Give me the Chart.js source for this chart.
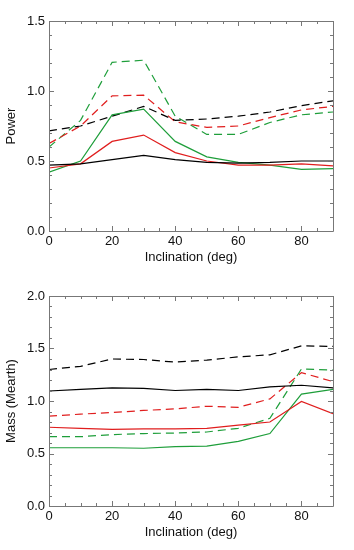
<!DOCTYPE html>
<html>
<head>
<meta charset="utf-8">
<script src="https://cdn.jsdelivr.net/npm/chart.js@4"></script>
<style>
  body { margin: 0; background: #fff; }
  canvas { position: absolute; left: 0; }
  #powerChart { top: 0; }
  #massChart { top: 275px; }
</style>
</head>
<body>
<canvas id="powerChart" width="354" height="275"></canvas>
<canvas id="massChart" width="354" height="275"></canvas>
<script>
// Inclination grid shared by both panels
const inclinations = [0, 10, 20, 30, 40, 50, 60, 70, 80, 90];

// Top panel: Power
const powerBlackSolid = [0.47, 0.48, 0.51, 0.54, 0.51, 0.49, 0.485, 0.49, 0.50, 0.50];
const powerRedSolid   = [0.45, 0.48, 0.64, 0.685, 0.56, 0.50, 0.47, 0.47, 0.48, 0.465];
const powerGreenSolid = [0.42, 0.50, 0.83, 0.87, 0.64, 0.53, 0.49, 0.47, 0.44, 0.445];
const powerBlackDash  = [0.715, 0.75, 0.82, 0.89, 0.79, 0.80, 0.82, 0.85, 0.895, 0.93];
const powerRedDash    = [0.625, 0.75, 0.965, 0.97, 0.78, 0.74, 0.75, 0.81, 0.865, 0.89];
const powerGreenDash  = [0.60, 0.79, 1.205, 1.22, 0.82, 0.69, 0.69, 0.775, 0.83, 0.85];

// Bottom panel: Mass (Mearth)
const massBlackDash  = [1.30, 1.33, 1.40, 1.395, 1.37, 1.39, 1.42, 1.44, 1.525, 1.52];
const massBlackSolid = [1.095, 1.11, 1.125, 1.12, 1.10, 1.11, 1.10, 1.135, 1.15, 1.125];
const massRedDash    = [0.855, 0.875, 0.89, 0.91, 0.925, 0.95, 0.94, 1.02, 1.27, 1.185];
const massRedSolid   = [0.75, 0.74, 0.73, 0.735, 0.735, 0.74, 0.77, 0.80, 0.995, 0.88];
const massGreenDash  = [0.66, 0.66, 0.68, 0.69, 0.695, 0.705, 0.74, 0.835, 1.305, 1.295];
const massGreenSolid = [0.555, 0.555, 0.555, 0.55, 0.565, 0.57, 0.615, 0.69, 1.065, 1.11];

const BLACK = '#000000';
const RED = '#e01e1e';
const GREEN = '#1e9e3a';
const DASH = [8, 5];
const FONT = "'Liberation Sans', Arial, Helvetica, sans-serif";

function series(values, color, dashed) {
    return {
        data: values.map((v, i) => ({x: inclinations[i], y: v})),
        borderColor: color,
        backgroundColor: color,
        borderWidth: 1.2,
        borderDash: dashed ? DASH : [],
        pointRadius: 0,
        tension: 0,
        fill: false
    };
}

// IDL-style box with inward ticks on all four sides
const boxPlugin = {
    id: 'idlBox',
    afterDatasetsDraw(chart, args, opts) {
        const ctx = chart.ctx;
        const a = chart.chartArea;
        const xs = chart.scales.x;
        const ys = chart.scales.y;
        ctx.save();
        ctx.strokeStyle = '#777';
        ctx.lineWidth = 1;
        ctx.beginPath();
        ctx.rect(Math.round(a.left) + 0.5, Math.round(a.top) + 0.5,
                 Math.round(a.right - a.left), Math.round(a.bottom - a.top));
        ctx.stroke();
        ctx.beginPath();
        for (let v = xs.min; v <= xs.max + 1e-9; v += opts.xMinor) {
            const px = Math.round(xs.getPixelForValue(v)) + 0.5;
            const len = (Math.abs(v / opts.xMajor - Math.round(v / opts.xMajor)) < 1e-6) ? 5 : 3;
            ctx.moveTo(px, a.bottom); ctx.lineTo(px, a.bottom - len);
            ctx.moveTo(px, a.top); ctx.lineTo(px, a.top + len);
        }
        for (let v = ys.min; v <= ys.max + 1e-9; v += opts.yMinor) {
            const py = Math.round(ys.getPixelForValue(v)) + 0.5;
            const len = (Math.abs(v / opts.yMajor - Math.round(v / opts.yMajor)) < 1e-6) ? 5 : 3;
            ctx.moveTo(a.left, py); ctx.lineTo(a.left + len, py);
            ctx.moveTo(a.right, py); ctx.lineTo(a.right - len, py);
        }
        ctx.stroke();
        ctx.restore();
    }
};

function makePanel(canvasId, datasets, yMax, yTitle) {
    const ctx = document.getElementById(canvasId).getContext('2d');
    return new Chart(ctx, {
        type: 'line',
        data: { datasets: datasets },
        plugins: [boxPlugin],
        options: {
            responsive: false,
            animation: false,
            layout: { padding: { top: 21, right: 21, left: 0, bottom: 0 } },
            plugins: {
                legend: { display: false },
                tooltip: { enabled: false },
                idlBox: { xMinor: 5, xMajor: 20, yMinor: 0.1, yMajor: 0.5 }
            },
            scales: {
                x: {
                    type: 'linear',
                    min: 0,
                    max: 90,
                    afterFit(scale) { scale.height = 44; },
                    grid: { drawOnChartArea: false, drawTicks: false, color: 'rgba(0,0,0,0)' },
                    border: { display: false },
                    ticks: {
                        stepSize: 20,
                        includeBounds: false,
                        maxRotation: 0,
                        padding: 3,
                        color: '#111',
                        font: { family: FONT, size: 13 }
                    },
                    title: {
                        display: true,
                        text: 'Inclination (deg)',
                        color: '#111',
                        padding: { top: 0, bottom: 10 },
                        font: { family: FONT, size: 13 }
                    }
                },
                y: {
                    type: 'linear',
                    min: 0,
                    max: yMax,
                    afterFit(scale) { scale.width = 49; },
                    grid: { drawOnChartArea: false, drawTicks: false, color: 'rgba(0,0,0,0)' },
                    border: { display: false },
                    ticks: {
                        stepSize: 0.5,
                        padding: 4,
                        color: '#111',
                        font: { family: FONT, size: 13 },
                        callback: v => v.toFixed(1)
                    },
                    title: {
                        display: true,
                        text: yTitle,
                        color: '#111',
                        padding: { top: 4, bottom: 0 },
                        font: { family: FONT, size: 13 }
                    }
                }
            }
        }
    });
}

makePanel('powerChart', [
    series(powerBlackSolid, BLACK, false),
    series(powerRedSolid, RED, false),
    series(powerGreenSolid, GREEN, false),
    series(powerBlackDash, BLACK, true),
    series(powerRedDash, RED, true),
    series(powerGreenDash, GREEN, true)
], 1.5, 'Power');

makePanel('massChart', [
    series(massBlackDash, BLACK, true),
    series(massBlackSolid, BLACK, false),
    series(massRedDash, RED, true),
    series(massRedSolid, RED, false),
    series(massGreenDash, GREEN, true),
    series(massGreenSolid, GREEN, false)
], 2.0, 'Mass (Mearth)');
</script>
</body>
</html>
